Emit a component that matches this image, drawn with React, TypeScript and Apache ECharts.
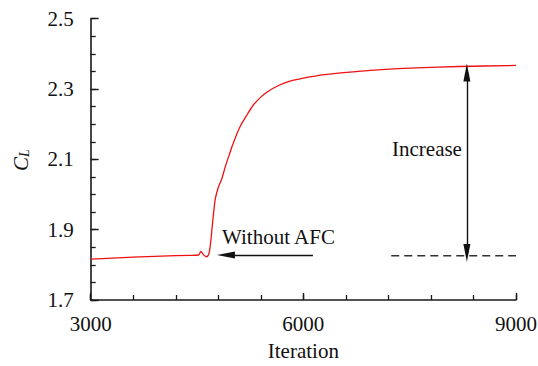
import React, { useEffect, useRef } from "react";
import * as echarts from "echarts";

// Lift coefficient history (iteration, C_L)
const iterations = [
  3000, 3300, 3600, 4000, 4400, 4520, 4555, 4590, 4630, 4665, 4690, 4710, 4735, 4760, 4800,
  4850, 4900, 4950, 5000, 5100, 5200, 5300, 5400, 5500, 5650, 5800, 6000, 6300, 6700, 7100,
  7600, 8200, 9000,
];
const clValues = [
  1.816, 1.819, 1.822, 1.825, 1.827, 1.828, 1.838, 1.829, 1.823, 1.83, 1.86, 1.9, 1.95, 1.99, 2.02,
  2.045, 2.08, 2.11, 2.14, 2.19, 2.225, 2.256, 2.277, 2.293, 2.31, 2.322, 2.331, 2.341, 2.349, 2.355,
  2.36, 2.364, 2.367,
];

// Reference level without AFC (dashed) and annotation arrows
const baselineX = [7240, 9000];
const baselineY = [1.826, 1.826];
const leftArrowX = [6135, 4908];
const leftArrowY = [1.828, 1.828];
const increaseArrowX = [8307, 8307];
const increaseArrowY = [1.834, 2.347];

// Axes
const xMin = 3000;
const xMax = 9000;
const xLabelValues = [3000, 6000, 9000];
const xMinorTicks = [3000, 3600, 4200, 4800, 5400, 6000, 6600, 7200, 7800, 8400, 9000];
const yMin = 1.7;
const yMax = 2.5;
const yLabelValues = [1.7, 1.9, 2.1, 2.3, 2.5];
const yMinorTicks = [
  1.7, 1.75, 1.8, 1.85, 1.9, 1.95, 2.0, 2.05, 2.1, 2.15, 2.2, 2.25, 2.3, 2.35, 2.4, 2.45, 2.5,
];

const FONT = "Liberation Serif";
const AXIS_COLOR = "#1a1a1a";

export default function App() {
  const ref = useRef<HTMLDivElement>(null);

  useEffect(() => {
    if (!ref.current) return;
    const chart = echarts.init(ref.current, undefined, { renderer: "svg" });

    const curve = iterations.map((x, i) => [x, clValues[i]]);
    const grid = {
      left: 90.7,
      right: 22,
      top: 18.7,
      bottom: 66,
      containLabel: false,
      outerBoundsMode: "none",
    };

    const baseAxisX = {
      type: "value" as const,
      min: xMin,
      max: xMax,
      splitLine: { show: false },
    };
    const baseAxisY = {
      type: "value" as const,
      min: yMin,
      max: yMax,
      splitLine: { show: false },
    };

    chart.setOption({
      animation: false,
      grid,
      xAxis: [
        {
          ...baseAxisX,
          name: "Iteration",
          nameLocation: "middle",
          nameGap: 40,
          nameTextStyle: { fontFamily: FONT, fontSize: 21, color: "#111" },
          axisLine: { show: true, lineStyle: { color: AXIS_COLOR, width: 1.6 } },
          axisTick: {
            show: true,
            inside: true,
            length: 7,
            customValues: xLabelValues,
            lineStyle: { color: AXIS_COLOR, width: 1.4 },
          },
          axisLabel: {
            customValues: xLabelValues,
            formatter: (v: number) => String(v),
            fontFamily: FONT,
            fontSize: 21,
            color: "#111",
            margin: 13,
          },
        },
        {
          ...baseAxisX,
          position: "bottom",
          axisLine: { show: false },
          axisTick: {
            show: true,
            inside: true,
            length: 5,
            customValues: xMinorTicks,
            lineStyle: { color: AXIS_COLOR, width: 1.3 },
          },
          axisLabel: { show: false },
        },
      ],
      yAxis: [
        {
          ...baseAxisY,
          axisLine: { show: true, lineStyle: { color: AXIS_COLOR, width: 1.6 } },
          axisTick: {
            show: true,
            inside: true,
            length: 8,
            customValues: yLabelValues,
            lineStyle: { color: AXIS_COLOR, width: 1.4 },
          },
          axisLabel: {
            customValues: yLabelValues,
            formatter: (v: number) => v.toFixed(1),
            fontFamily: FONT,
            fontSize: 21,
            color: "#111",
            margin: 17,
          },
        },
        {
          ...baseAxisY,
          position: "left",
          offset: 0,
          axisLine: { show: false },
          axisTick: {
            show: true,
            inside: true,
            length: 5,
            customValues: yMinorTicks,
            lineStyle: { color: AXIS_COLOR, width: 1.3 },
          },
          axisLabel: { show: false },
        },
      ],
      graphic: [
        {
          type: "text",
          x: 21,
          y: 160,
          rotation: Math.PI / 2,
          style: {
            text: "{c|C}{l|L}",
            align: "center",
            verticalAlign: "middle",
            rich: {
              c: { fontFamily: FONT, fontStyle: "italic", fontSize: 21, fill: "#111" },
              l: {
                fontFamily: FONT,
                fontStyle: "italic",
                fontSize: 14,
                fill: "#111",
                padding: [7, 0, 0, 0],
              },
            },
          },
        },
        {
          type: "text",
          left: 222,
          top: 226,
          style: { text: "Without AFC", fontFamily: FONT, fontSize: 21, fill: "#111" },
        },
        {
          type: "text",
          left: 392,
          top: 138,
          style: { text: "Increase", fontFamily: FONT, fontSize: 21, fill: "#111" },
        },
      ],
      series: [
        {
          type: "line",
          data: curve,
          smooth: 0.3,
          showSymbol: false,
          symbol: "none",
          lineStyle: { color: "#ee1111", width: 1.3 },
          z: 3,
        },
        {
          type: "line",
          data: baselineX.map((x, i) => [x, baselineY[i]]),
          showSymbol: false,
          symbol: "none",
          lineStyle: { color: "#333", width: 1.4, type: [8, 5] },
        },
        {
          type: "line",
          data: [],
          markLine: {
            silent: true,
            animation: false,
            label: { show: false },
            lineStyle: { color: "#111", width: 1.4, type: "solid" },
            symbolSize: [7, 18],
            data: [
              [
                { coord: [leftArrowX[0], leftArrowY[0]], symbol: "none" },
                { coord: [leftArrowX[1], leftArrowY[1]], symbol: "triangle" },
              ],
              [
                { coord: [increaseArrowX[0], increaseArrowY[0]], symbol: "triangle" },
                { coord: [increaseArrowX[1], increaseArrowY[1]], symbol: "triangle" },
              ],
            ],
          },
        },
      ],
    });

    return () => chart.dispose();
  }, []);

  return (
    <div
      ref={ref}
      style={{ position: "fixed", left: 0, top: 0, width: 538, height: 366, background: "#fff" }}
    />
  );
}
